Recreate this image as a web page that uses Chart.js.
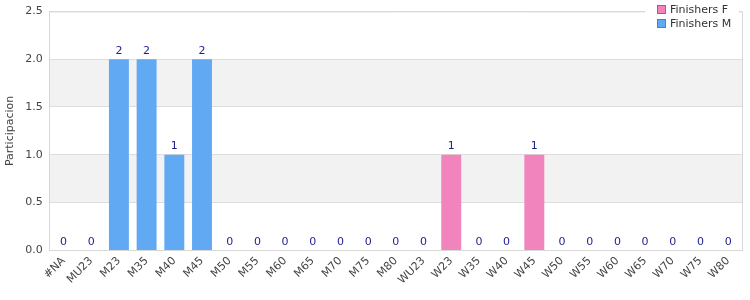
<!DOCTYPE html>
<html>
<head>
<meta charset="utf-8">
<script src="https://cdn.jsdelivr.net/npm/chart.js@4"></script>
<style>
  html, body { margin: 0; padding: 0; background: #fff; }
  #wrap { width: 750px; height: 300px; }
</style>
</head>
<body>
<div id="wrap"><canvas id="chart"></canvas></div>
<script>
// categories and series
const categories = ["#NA", "MU23", "M23", "M35", "M40", "M45", "M50", "M55", "M60", "M65", "M70", "M75", "M80",
  "WU23", "W23", "W35", "W40", "W45", "W50", "W55", "W60", "W65", "W70", "W75", "W80"];
const finishersF = [0, 0, 0, 0, 0, 0, 0, 0, 0, 0, 0, 0, 0, 0, 1, 0, 0, 1, 0, 0, 0, 0, 0, 0, 0];
const finishersM = [0, 0, 2, 2, 1, 2, 0, 0, 0, 0, 0, 0, 0, 0, 0, 0, 0, 0, 0, 0, 0, 0, 0, 0, 0];
const yTicks = [0, 0.5, 1, 1.5, 2, 2.5];

const FONT = "'DejaVu Sans', sans-serif";

// alternating grey bands, drawn before the grid lines
const bands = {
  id: "bands",
  beforeDraw(chart) {
    const { ctx, chartArea: a, scales: { y } } = chart;
    ctx.save();
    ctx.fillStyle = "#f2f2f2";
    for (let i = 1; i < yTicks.length - 1; i += 2) {
      const top = y.getPixelForValue(yTicks[i + 1]);
      const bot = y.getPixelForValue(yTicks[i]);
      ctx.fillRect(a.left, top, a.right - a.left, bot - top);
    }
    ctx.restore();
  },
};

// totals over each stack + legend box at top right
const extras = {
  id: "extras",
  afterDraw(chart) {
    const { ctx, chartArea: a, scales: { x, y } } = chart;
    ctx.save();
    ctx.font = "11px " + FONT;
    ctx.fillStyle = "#1f1f8c";
    ctx.textAlign = "center";
    ctx.textBaseline = "bottom";
    categories.forEach((c, i) => {
      const total = finishersF[i] + finishersM[i];
      ctx.fillText(String(total), x.getPixelForValue(i), y.getPixelForValue(total) - 3);
    });

    // legend
    const lx = a.right - 97, ly = 0;
    ctx.fillStyle = "#fff";
    ctx.fillRect(lx, ly, 94, 32);
    chart.data.datasets.forEach((ds, i) => {
      const by = 5 + i * 14;
      ctx.fillStyle = ds.backgroundColor;
      ctx.fillRect(a.right - 85, by, 9, 9);
      ctx.strokeStyle = "#777";
      ctx.lineWidth = 1;
      ctx.strokeRect(a.right - 84.5, by + 0.5, 8, 8);
      ctx.fillStyle = "#333";
      ctx.textAlign = "left";
      ctx.textBaseline = "middle";
      ctx.fillText(ds.label, a.right - 72, by + 5);
    });
    ctx.restore();
  },
};

new Chart(document.getElementById("chart"), {
  type: "bar",
  data: {
    labels: categories,
    datasets: [
      { label: "Finishers F", data: finishersF, backgroundColor: "#f284bd" },
      { label: "Finishers M", data: finishersM, backgroundColor: "#62a9f4" },
    ],
  },
  options: {
    responsive: true,
    maintainAspectRatio: false,
    animation: false,
    layout: { padding: { top: 10, right: 8, left: 3, bottom: 9 } },
    datasets: { bar: { categoryPercentage: 1, barPercentage: 0.72 } },
    plugins: { legend: { display: false }, tooltip: { enabled: false } },
    scales: {
      x: {
        stacked: true,
        grid: { display: false, drawTicks: false },
        border: { color: "#d8d8d8" },
        ticks: { font: { family: FONT, size: 11 }, color: "#444", maxRotation: 45, minRotation: 45, autoSkip: false, padding: 4 },
      },
      y: {
        stacked: true,
        min: 0,
        max: 2.5,
        afterBuildTicks(axis) { axis.ticks = yTicks.map((v) => ({ value: v })); },
        grid: { color: "#dddddd", drawTicks: false },
        border: { color: "#d8d8d8" },
        ticks: { font: { family: FONT, size: 11, lineHeight: 0.8 }, color: "#444", padding: 7, callback: (v) => Number(v).toFixed(1) },
        title: { display: true, text: "Participacion", font: { family: FONT, size: 11 }, color: "#444", padding: 1 },
      },
    },
  },
  plugins: [bands, extras,
    {
      id: "frame",
      afterDatasetsDraw(chart) {
        const { ctx, chartArea: a } = chart;
        ctx.save();
        ctx.strokeStyle = "#d8d8d8";
        ctx.lineWidth = 1;
        ctx.beginPath();
        ctx.moveTo(a.left, a.top + 0.5);
        ctx.lineTo(a.right + 0.5, a.top + 0.5);
        ctx.lineTo(a.right + 0.5, a.bottom);
        ctx.stroke();
        ctx.restore();
      },
    }],
});
</script>
</body>
</html>
